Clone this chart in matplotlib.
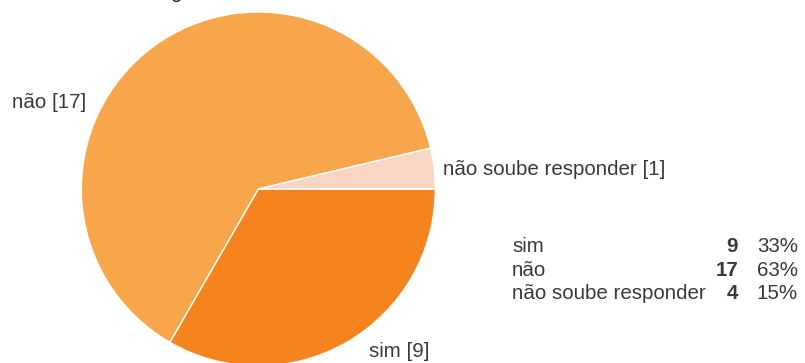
import matplotlib.pyplot as plt

# survey answers
categories = ["sim", "não", "não soube responder"]
pie_values = [9, 17, 1]
table_counts = [9, 17, 4]
table_percents = [33, 63, 15]
colors = ["#F5841F", "#F8A64B", "#F9D5C4"]

plt.rcParams["font.family"] = ["Liberation Sans", "DejaVu Sans"]
text_color = "#3a3a3a"
fs = 14.8

W, H = 805, 363
fig = plt.figure(figsize=(W / 100, H / 100), dpi=100)

# pie centre and radius in pixels
cx, cy, r = 258.3, 189.0, 177.0
ax = fig.add_axes([(cx - r) / W, (H - cy - r) / H, 2 * r / W, 2 * r / H])
ax.pie(pie_values, colors=colors, startangle=0, counterclock=False,
       wedgeprops=dict(edgecolor="white", linewidth=1.0))
ax.set_xlim(-1, 1)
ax.set_ylim(-1, 1)
ax.set_aspect("equal")
ax.axis("off")


def px(x, y):
    return x / W, 1 - y / H


# bit of the title descender at the very top
fig.text(*px(176, -1.5), "g", fontsize=fs, color="#222222", ha="center", va="baseline")

# slice labels
fig.text(*px(12, 108), f"{categories[1]} [{pie_values[1]}]", fontsize=fs,
         color=text_color, va="baseline")
fig.text(*px(443, 175), f"{categories[2]} [{pie_values[2]}]", fontsize=fs,
         color=text_color, va="baseline")
fig.text(*px(369, 357), f"{categories[0]} [{pie_values[0]}]", fontsize=fs,
         color=text_color, va="baseline")

# summary table
for i, (cat, n, pct) in enumerate(zip(categories, table_counts, table_percents)):
    y = 252 + i * 23.5
    fig.text(*px(512, y), cat, fontsize=fs, color=text_color, va="baseline")
    fig.text(*px(738, y), str(n), fontsize=fs, color=text_color, va="baseline",
             ha="right", fontweight="bold")
    fig.text(*px(798, y), f"{pct}%", fontsize=fs, color=text_color, va="baseline",
             ha="right")

fig.savefig("out.png", dpi=100)
